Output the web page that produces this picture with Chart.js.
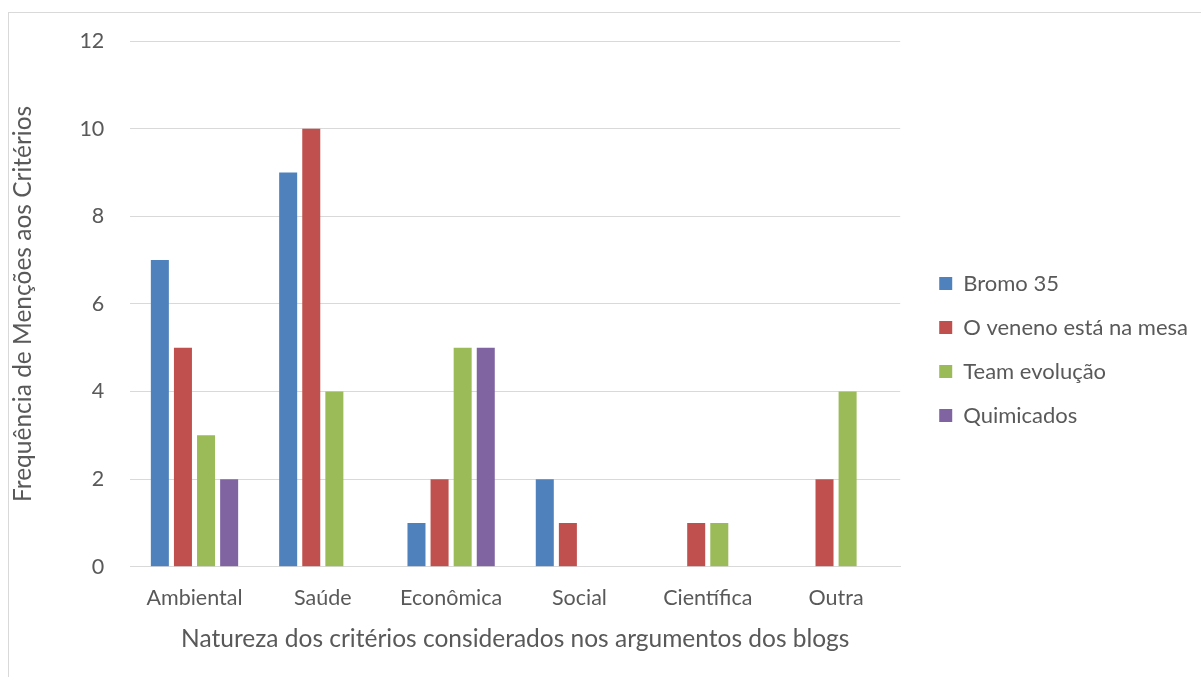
<!DOCTYPE html>
<html>
<head>
<meta charset="utf-8">
<script src="https://cdn.jsdelivr.net/npm/chart.js@4/dist/chart.umd.min.js"></script>
<style>
  html, body { margin: 0; padding: 0; background: #fff; overflow: hidden; }
  #frame { position: absolute; left: 8px; top: 12px; width: 1300px; height: 800px; border: 1px solid #d9d9d9; }
  #wrap { position: absolute; left: 0; top: 0; width: 1201px; height: 677px; }
</style>
</head>
<body>
<div id="frame"></div>
<div id="wrap"><canvas id="chart"></canvas></div>
<script>
const categories = ["Ambiental", "Saúde", "Econômica", "Social", "Científica", "Outra"];
const bromo35 = [7, 9, 1, 2, 0, 0];
const veneno = [5, 10, 2, 1, 1, 2];
const teamEvolucao = [3, 4, 5, 0, 1, 4];
const quimicados = [2, 0, 5, 0, 0, 0];
const yTicks = [0, 2, 4, 6, 8, 10, 12];

const textColor = "#595959";
const fontFamily = "Lato, 'Open Sans', sans-serif";
const legendGap = 18;

function series(label, data, color) {
    return {
        label: label,
        data: data,
        backgroundColor: color,
        borderWidth: 0,
        barPercentage: 0.78,
        categoryPercentage: 0.72
    };
}

// reserve some extra room between the plot and the legend
const legendSpacer = {
    id: "legendSpacer",
    beforeUpdate(chart) {
        const legend = chart.legend;
        if (!legend || legend._spaced) return;
        const fit = legend.fit.bind(legend);
        legend.fit = function () {
            fit();
            this.width += legendGap;
        };
        legend._spaced = true;
    },
    afterLayout(chart) {
        if (chart.legend) chart.legend.left += legendGap - 1;
    }
};

new Chart(document.getElementById("chart"), {
    type: "bar",
    data: {
        labels: categories,
        datasets: [
            series("Bromo 35", bromo35, "#4f81bd"),
            series("O veneno está na mesa", veneno, "#c0504d"),
            series("Team evolução", teamEvolucao, "#9bbb59"),
            series("Quimicados", quimicados, "#8064a2")
        ]
    },
    plugins: [legendSpacer],
    options: {
        responsive: true,
        maintainAspectRatio: false,
        animation: false,
        layout: { padding: { top: 41, left: 4, right: 2, bottom: 19 } },
        plugins: {
            tooltip: { enabled: false },
            legend: {
                position: "right",
                labels: {
                    boxWidth: 13,
                    boxHeight: 13,
                    padding: 22,
                    color: textColor,
                    font: { family: fontFamily, size: 22 }
                }
            }
        },
        scales: {
            x: {
                grid: { display: false },
                border: { color: "#d9d9d9", width: 1 },
                ticks: { color: textColor, font: { family: fontFamily, size: 21.5 }, padding: 10 },
                title: {
                    display: true,
                    text: "Natureza dos critérios considerados nos argumentos dos blogs",
                    color: textColor,
                    font: { family: fontFamily, size: 24.5 },
                    padding: { top: 4 }
                }
            },
            y: {
                min: 0,
                max: 12,
                afterBuildTicks: axis => { axis.ticks = yTicks.map(v => ({ value: v })); },
                grid: { color: "#d9d9d9", drawTicks: false },
                border: { display: false },
                ticks: { color: textColor, font: { family: fontFamily, size: 21.5 }, padding: 26 },
                title: {
                    display: true,
                    text: "Frequência de Menções aos Critérios",
                    color: textColor,
                    font: { family: fontFamily, size: 24.5 },
                    padding: { bottom: 16 }
                }
            }
        }
    }
});
</script>
</body>
</html>
